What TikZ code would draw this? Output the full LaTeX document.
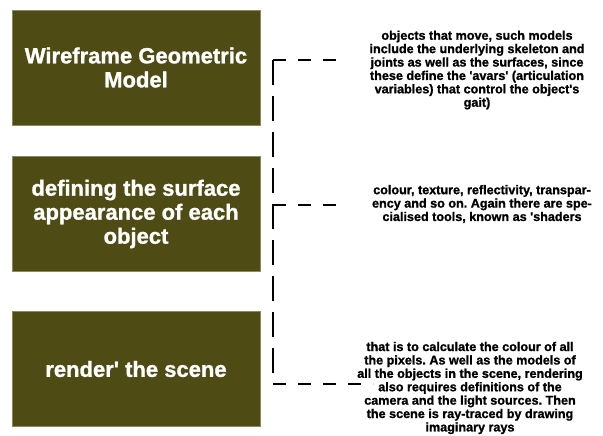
\documentclass[tikz,border=0pt]{standalone}
\usepackage{fontspec}
\setmainfont{Liberation Sans}[Ligatures=TeXOff,BoldFeatures={FakeBold=1.2}]
\definecolor{boxfill}{RGB}{78,75,20}
\definecolor{boxline}{RGB}{140,137,95}
\frenchspacing
\begin{document}
\begin{tikzpicture}[x=1pt,y=-1pt,
  mainbox/.style={draw=boxline,line width=0.8pt,fill=boxfill,minimum width=248pt,minimum height=115pt,
    text=white,align=center,inner sep=0pt,font=\fontsize{22}{24}\selectfont\bfseries},
  desc/.style={align=center,inner sep=0pt,font=\fontsize{12.6}{13.4}\selectfont\bfseries},
  vdash/.style={line width=1.8pt,dash pattern=on 25pt off 11pt},
  hdash/.style={line width=1.8pt,dash pattern=on 13pt off 12pt}]
\useasboundingbox (0,0) rectangle (603,436);
\node[mainbox] (b1) at (136,67.5) {Wireframe Geometric\\Model};
\node[mainbox] (b2) at (136,214) {defining the surface\\appearance of each\\object};
\node[mainbox] (b3) at (136,369) {render' the scene};
\node[desc] (t1) at (477,70) {objects that move, such models\\include the underlying skeleton and\\joints as well as the surfaces, since\\these define the 'avars' (articulation\\variables) that control the object's\\gait)};
\node[desc] (t2) at (482,204) {colour, texture, reflectivity, transpar-\\ency and so on. Again there are spe-\\cialised tools, known as 'shaders};
\node[desc] (t3) at (470,388) {that is to calculate the colour of all\\the pixels. As well as the models of\\all the objects in the scene, rendering\\also requires definitions of the\\camera and the light sources. Then\\the scene is ray-traced by drawing\\imaginary rays};
\coordinate (jt) at (273,60);
\coordinate (jm) at (273,205);
\coordinate (jb) at (273,384);
\coordinate (e1) at (340,60);
\coordinate (e2) at (340,205);
\coordinate (e3) at (373,384);
\draw[vdash] (jt) -- (jb);
\draw[hdash] (jt) -- (e1);
\draw[hdash] (jm) -- (e2);
\draw[hdash] (jb) -- (e3);
\end{tikzpicture}
\end{document}
